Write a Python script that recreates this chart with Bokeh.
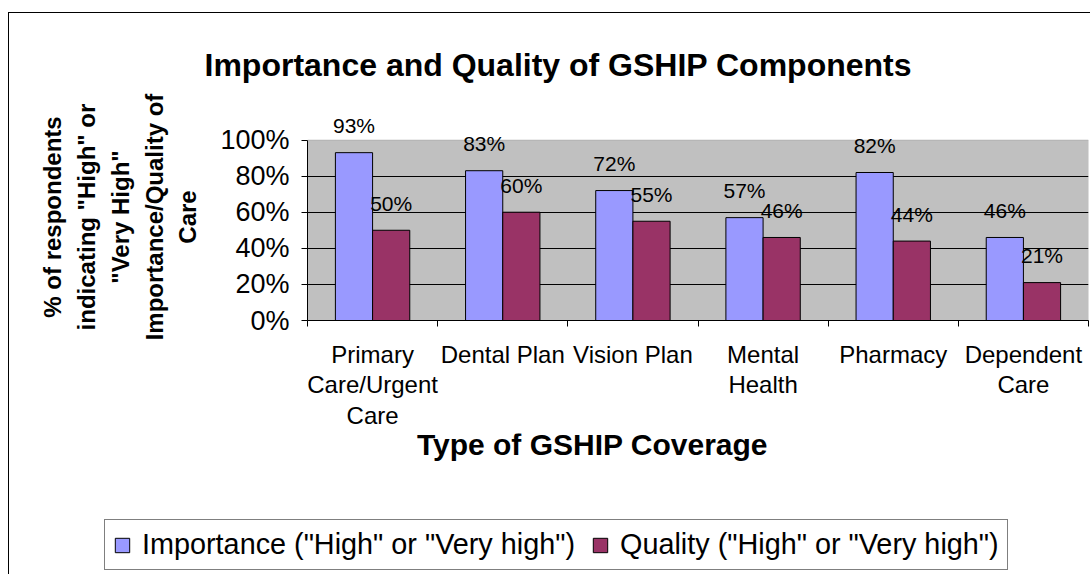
from bokeh.plotting import figure
from bokeh.layouts import column
from bokeh.models import (ColumnDataSource, Range1d, LinearAxis, FixedTicker, LabelSet, Label,
                          Legend, LegendItem, BoxAnnotation, Title)
from bokeh.core.properties import value
from bokeh.transform import dodge
from bokeh.embed import file_html
from bokeh.resources import INLINE

# ---- data ----
categories = ["Primary\nCare/Urgent\nCare", "Dental Plan", "Vision Plan",
              "Mental\nHealth", "Pharmacy", "Dependent\nCare"]
importance = [93, 83, 72, 57, 82, 46]
quality = [50, 60, 55, 46, 44, 21]
y_ticks = [0, 20, 40, 60, 80, 100]
y_tick_labels = ["0%", "20%", "40%", "60%", "80%", "100%"]
series_names = ['Importance ("High" or "Very high")', 'Quality ("High" or "Very high")']
title_text = "Importance and Quality of GSHIP Components"
x_title = "Type of GSHIP Coverage"
y_title_lines = ["% of respondents", 'indicating "High" or', '"Very High"',
                 "Importance/Quality of", "Care"]

FONT = "Liberation Sans"
BLUE = "#9999FF"
MAROON = "#993366"

n = len(categories)
centers = [i + 0.5 for i in range(n)]   # category slot centres on the x scale

src = ColumnDataSource(dict(
    x=centers,
    imp=importance,
    qual=quality,
    imp_lbl=[f"{v}%" for v in importance],
    qual_lbl=[f"{v}%" for v in quality],
))

# ---------------- main chart ----------------
p = figure(x_range=Range1d(0, n), y_range=Range1d(0, 114.7),
           width=1081, height=420, output_backend="svg", toolbar_location=None,
           x_axis_location=None, y_axis_location=None,
           min_border_left=298, min_border_right=2, min_border_top=96, min_border_bottom=113,
           background_fill_color="white", border_fill_color="white",
           outline_line_color=None)
p.xgrid.visible = False
p.ygrid.visible = False

# grey plot area (0..100 %)
p.add_layout(BoxAnnotation(left=0, right=n, bottom=y_ticks[0], top=y_ticks[-1],
                           fill_color="#C0C0C0", fill_alpha=1,
                           line_color="#808080", line_width=1, level="underlay"))
# horizontal gridlines
p.hspan(y=y_ticks[1:-1], line_color="black", line_width=1)

# y axis (+ multi-line bold title)
yaxis = LinearAxis(ticker=FixedTicker(ticks=y_ticks), bounds=(y_ticks[0], y_ticks[-1]),
                   major_label_overrides={t: l for t, l in zip(y_ticks, y_tick_labels)},
                   axis_line_color="black", major_tick_line_color="black",
                   major_tick_out=6, major_tick_in=0, minor_tick_line_color=None,
                   major_label_standoff=12, major_label_text_font=FONT,
                   major_label_text_font_size="27px", major_label_text_color="black",
                   axis_label="\n".join(y_title_lines), axis_label_standoff=16,
                   axis_label_text_font=FONT, axis_label_text_font_size="24px",
                   axis_label_text_font_style="bold", axis_label_text_color="black",
                   axis_label_text_line_height=1.25)
p.add_layout(yaxis, "left")

# x axis: boundary ticks + category labels
edge_axis = LinearAxis(ticker=FixedTicker(ticks=list(range(n + 1))),
                       major_label_overrides={i: "" for i in range(n + 1)},
                       axis_line_color="black", major_tick_line_color="black",
                       major_tick_out=6, major_tick_in=0, minor_tick_line_color=None,
                       major_label_standoff=0, major_label_text_font_size="1px")
p.add_layout(edge_axis, "below")
cat_axis = LinearAxis(ticker=FixedTicker(ticks=centers),
                      major_label_overrides={c: lab for c, lab in zip(centers, categories)},
                      axis_line_color=None, major_tick_line_color=None,
                      minor_tick_line_color=None, major_label_standoff=8,
                      major_label_text_font=FONT, major_label_text_font_size="24px",
                      major_label_text_line_height=1.14, major_label_text_color="black")
p.add_layout(cat_axis, "below")

# chart title
p.add_layout(Title(text=title_text, align="left", offset=-103, standoff=62,
                   text_font=FONT, text_font_size="32px", text_font_style="bold",
                   text_color="black"), "above")

# bars
w = 1.0 / 3.5
r1 = p.vbar(x=dodge("x", -w / 2), top="imp", width=w, source=src,
            fill_color=BLUE, line_color="black", line_width=1)
r2 = p.vbar(x=dodge("x", w / 2), top="qual", width=w, source=src,
            fill_color=MAROON, line_color="black", line_width=1)

# data labels
for xoff, ycol, col in ((-w / 2, "imp", "imp_lbl"), (w / 2, "qual", "qual_lbl")):
    p.add_layout(LabelSet(x=dodge("x", xoff), y=ycol, text=col, source=src,
                          text_align="center", text_baseline="middle", y_offset=27,
                          text_font=value(FONT), text_font_size="21px", text_color="black"))

# ---------------- lower strip: x-axis title + legend ----------------
pl = figure(x_range=Range1d(-2 * n, -n), y_range=Range1d(-2, -1), width=1081, height=141,
            output_backend="svg", toolbar_location=None, x_axis_location=None,
            y_axis_location=None, min_border=0, outline_line_color=None,
            background_fill_color="white", border_fill_color="white")
pl.xgrid.visible = False
pl.ygrid.visible = False
for fig in (p, pl):
    try:
        fig.frame_align = False
    except Exception:
        pass

pl.add_layout(Label(x=583, y=130, x_units="screen", y_units="screen", text=x_title,
                    text_align="center", text_baseline="alphabetic", text_font=FONT,
                    text_font_size="30px", text_font_style="bold", text_color="black"))

# legend swatches come from the same series (bars lie outside this strip's view)
lr1 = pl.vbar(x="x", top="imp", width=w, source=src, fill_color=BLUE,
              line_color="black", line_width=1)
lr2 = pl.vbar(x="x", top="qual", width=w, source=src, fill_color=MAROON,
              line_color="black", line_width=1)
legend = Legend(items=[LegendItem(label=series_names[0], renderers=[lr1]),
                       LegendItem(label=series_names[1], renderers=[lr2])],
                location=(95, 4), orientation="horizontal",
                border_line_color="black", border_line_width=1,
                background_fill_color="white", background_fill_alpha=1,
                padding=8, spacing=16, label_standoff=11, glyph_width=18, glyph_height=18,
                label_text_font=FONT, label_text_font_size="28.8px", label_text_color="black",
                margin=0)
pl.add_layout(legend)

layout = column(p, pl, spacing=0)
layout.styles = {"margin-left": "8px", "margin-top": "12px",
                 "border-left": "1px solid black", "border-top": "1px solid black"}

open("out.html", "w").write(file_html(layout, INLINE))
